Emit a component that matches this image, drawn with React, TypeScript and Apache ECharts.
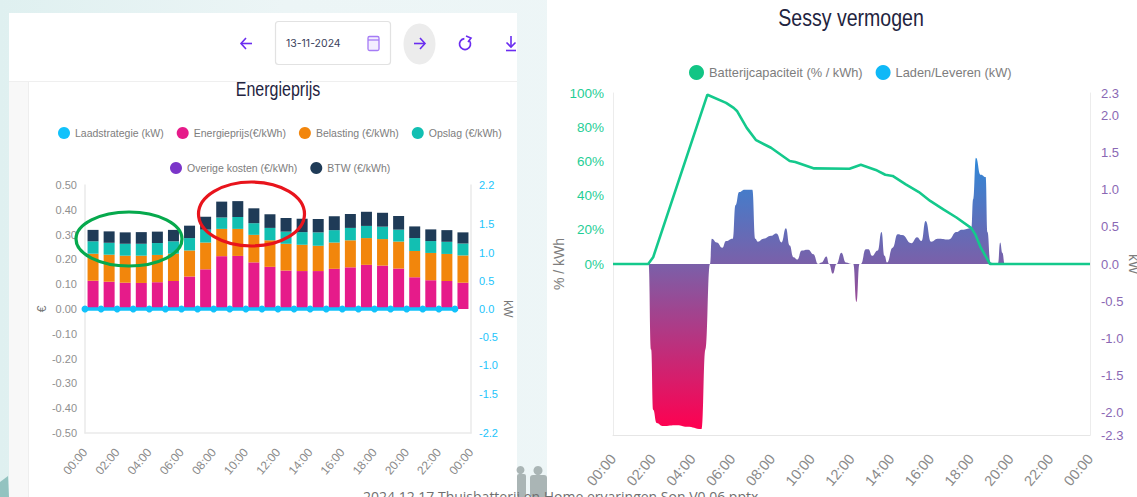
import React, { useEffect, useRef } from "react";
import * as echarts from "echarts";

// ---------- left chart data (one value per hour) ----------
const priceHours = ["00:30","01:30","02:30","03:30","04:30","05:30","06:30","07:30","08:30","09:30","10:30","11:30","12:30","13:30","14:30","15:30","16:30","17:30","18:30","19:30","20:30","21:30","22:30","23:30"];
const strategyHours = [0,1,2,3,4,5,6,7,8,9,10,11,12,13,14,15,16,17,18,19,20,21,22,23];
const laadstrategie = [0,0,0,0,0,0,0,0,0,0,0,0,0,0,0,0,0,0,0,0,0,0,0,0];
const energieprijs = [0.114,0.110,0.106,0.105,0.108,0.113,0.131,0.160,0.213,0.214,0.188,0.170,0.155,0.153,0.153,0.162,0.168,0.178,0.175,0.163,0.128,0.116,0.113,0.106];
const belasting = [0.109,0.109,0.109,0.110,0.110,0.110,0.105,0.108,0.110,0.109,0.111,0.107,0.108,0.106,0.102,0.106,0.109,0.108,0.107,0.109,0.106,0.110,0.109,0.110];
const opslag = [0.050,0.048,0.048,0.048,0.048,0.050,0.050,0.052,0.046,0.048,0.047,0.050,0.049,0.051,0.054,0.050,0.050,0.049,0.050,0.048,0.052,0.048,0.049,0.048];
const overigeKosten = [0,0,0,0,0,0,0,0,0,0,0,0,0,0,0,0,0,0,0,0,0,0,0,0];
const btw = [0.046,0.046,0.046,0.047,0.046,0.046,0.050,0.052,0.064,0.064,0.060,0.055,0.055,0.054,0.054,0.056,0.056,0.057,0.056,0.055,0.047,0.047,0.047,0.045];
const kwTicksLeft = [-2.2,-1.5,-1,-0.5,0,0.5,1,1.5,2.2];

// ---------- right chart data ----------
const powerHours = [0,1.79,1.92,2.02,2.20,2.49,3.24,3.71,4.46,4.65,4.88,4.97,5.22,5.50,5.69,6.03,6.16,6.35,6.63,7.01,7.16,7.29,7.57,7.95,8.23,8.48,8.70,8.89,9.08,9.27,9.50,9.83,10.08,10.32,10.49,10.74,10.87,11.06,11.25,11.49,11.72,12.0,12.09,12.25,12.40,12.47,12.72,12.85,13.04,13.32,13.51,13.66,13.79,14.07,14.32,14.54,15.01,15.30,15.52,15.73,16.01,16.33,16.90,17.28,17.56,18.03,18.12,18.26,18.50,18.75,18.84,18.99,19.25,19.37,19.48,19.59,19.71,24];
const powerKw = [0,0,-1.15,-1.96,-2.14,-2.18,-2.17,-2.19,-2.22,-1.15,0,0.34,0.29,0.22,0.31,0.34,0.79,0.97,1.0,1.0,0.34,0.30,0.34,0.38,0.41,0.29,0.48,0.25,0.09,0.06,0.18,0.19,0.13,0,0.02,0.10,0,-0.13,0,0.15,0.02,0,0,-0.51,0,0,0.2,0.2,0.11,0.18,0.43,0.11,0.02,0.22,0.40,0.39,0.28,0.36,0.31,0.58,0.30,0.34,0.33,0.43,0.46,0.48,0.87,1.43,1.2,1.17,0.43,0.02,0,0.01,0.29,0.15,0,0];
const batteryHours = [0,1.77,2.02,4.75,5.69,6.07,6.25,6.73,7.2,7.95,8.89,9.17,10.12,11.9,12.47,13.22,13.7,14.07,14.73,15.39,15.96,16.62,17.28,18.03,18.22,18.5,18.97,19.07,24];
const batteryPct = [0,0,3.9,99,94.2,91.3,89.3,79.6,72.4,68,60.2,59.6,55.9,55.7,58,55,52.2,51.5,46.6,42.1,36.9,32,27.2,21,17.5,9.7,0,0,0];
const pctTicks = [0,20,40,60,80,100];
const kwTicksRight = [-2.3,-2,-1.5,-1,-0.5,0,0.5,1,1.5,2,2.3];

const leftTitle = "Energieprijs";
const rightTitle = "Sessy vermogen";
const dateText = "13-11-2024";
const headline = "Zoo stand";
const footer = "2024 12 17 Thuisbatterij en Home ervaringen Son V0 06.pptx";

const SANS = '"Liberation Sans", sans-serif';
const INK = "#1f2440";
const VIOLET = "#6a2cf0";

const pairs = (xs: number[], ys: number[]) => xs.map((x, i) => [x, ys[i]]);
const hourLabel = (v: number) => `${String(v % 24).padStart(2, "0")}:00`;

export default function App() {
  const ref = useRef<HTMLDivElement>(null);
  useEffect(() => {
    const chart = echarts.init(ref.current!, undefined, { renderer: "svg" });
    const stroke = { stroke: VIOLET, lineWidth: 1.6, fill: "none" };
    const bar = (name: string, values: number[], color: string) => ({
      name, type: "bar", stack: "price", xAxisIndex: 2, yAxisIndex: 0, barWidth: 11,
      data: values, itemStyle: { color },
    });
    chart.setOption({
      animation: false,
      backgroundColor: "transparent",
      legend: [
        { left: 53, top: 122, icon: "circle", itemWidth: 12, itemHeight: 12, itemGap: 13, textStyle: { fontFamily: SANS, fontSize: 10.5, color: "#7d7d7d" },
          data: ["Laadstrategie (kW)", "Energieprijs(€/kWh)", "Belasting (€/kWh)", "Opslag (€/kWh)"] },
        { left: 165, top: 157, icon: "circle", itemWidth: 12, itemHeight: 12, itemGap: 13, textStyle: { fontFamily: SANS, fontSize: 10.5, color: "#7d7d7d" },
          data: ["Overige kosten (€/kWh)", "BTW (€/kWh)"] },
        { left: 684, top: 60, icon: "circle", itemWidth: 15, itemHeight: 15, itemGap: 13, textStyle: { fontFamily: SANS, fontSize: 12.8, color: "#7d7d7d" },
          data: ["Batterijcapaciteit (% / kWh)", "Laden/Leveren (kW)"] },
      ],
      grid: [
        { left: 85, top: 185, width: 386, height: 248, outerBoundsMode: "none" },
        { left: 613, top: 93, width: 477, height: 342, outerBoundsMode: "none" },
      ],
      xAxis: [
        { gridIndex: 0, type: "value", min: 0, max: 24, interval: 2, splitLine: { show: false }, axisTick: { show: false },
          axisLine: { onZero: false, lineStyle: { color: "#eaeaea", width: 1.5 } },
          axisLabel: { rotate: 50, margin: 17, fontFamily: SANS, fontSize: 12, color: "#8a8a8a", formatter: hourLabel, showMinLabel: true, showMaxLabel: true } },
        { gridIndex: 1, type: "value", min: 0, max: 24, interval: 2, splitLine: { show: false }, axisTick: { show: false },
          axisLine: { onZero: false, lineStyle: { color: "#e6e6e6" } },
          axisLabel: { rotate: 50, margin: 21, fontFamily: SANS, fontSize: 14.5, color: "#8a8a8a", formatter: hourLabel, showMinLabel: true, showMaxLabel: true } },
        { gridIndex: 0, type: "category", show: false, data: priceHours },
      ],
      yAxis: [
        { gridIndex: 0, type: "value", min: -0.5, max: 0.5, interval: 0.1, splitLine: { show: false }, axisTick: { show: false },
          axisLine: { show: true, onZero: false, lineStyle: { color: "#eaeaea", width: 1.5 } },
          axisLabel: { margin: 8, fontFamily: SANS, fontSize: 11, color: "#8f8f8f", formatter: (v: number) => v.toFixed(2) },
          name: "€", nameLocation: "middle", nameGap: 30, nameTextStyle: { fontFamily: SANS, fontSize: 12, color: "#777" } },
        { gridIndex: 0, type: "value", position: "right", min: -2.2, max: 2.2, splitLine: { show: false }, axisTick: { show: false },
          axisLine: { show: true, onZero: false, lineStyle: { color: "#eaeaea", width: 1.5 } },
          axisLabel: { margin: 8, fontFamily: SANS, fontSize: 11, color: "#22c4fb", customValues: kwTicksLeft, formatter: (v: number) => v.toFixed(1) },
          name: "kW", nameLocation: "middle", nameGap: 31, nameRotate: -90, nameTextStyle: { fontFamily: SANS, fontSize: 12, color: "#777" } },
        { gridIndex: 1, type: "value", min: -100, max: 100, splitLine: { show: false }, axisTick: { show: false },
          axisLine: { show: true, onZero: false, lineStyle: { color: "#ececec" } },
          axisLabel: { margin: 9, fontFamily: SANS, fontSize: 13.5, color: "#1fce96", customValues: pctTicks, formatter: (v: number) => `${v}%` },
          name: "% / kWh", nameLocation: "middle", nameGap: 35, nameTextStyle: { fontFamily: SANS, fontSize: 14, color: "#7d7d7d" } },
        { gridIndex: 1, type: "value", position: "right", min: -2.3, max: 2.3, splitLine: { show: false }, axisTick: { show: false },
          axisLine: { show: true, onZero: false, lineStyle: { color: "#ececec" } },
          axisLabel: { margin: 11, fontFamily: SANS, fontSize: 13, color: "#8a68b4", customValues: kwTicksRight, formatter: (v: number) => v.toFixed(1) },
          name: "kW", nameLocation: "middle", nameGap: 36, nameRotate: -90, nameTextStyle: { fontFamily: SANS, fontSize: 14, color: "#7d7d7d" } },
      ],
      series: [
        bar("Energieprijs(€/kWh)", energieprijs, "#e61b8a"),
        bar("Belasting (€/kWh)", belasting, "#f2860c"),
        bar("Opslag (€/kWh)", opslag, "#12bfb2"),
        bar("Overige kosten (€/kWh)", overigeKosten, "#7b35c9"),
        bar("BTW (€/kWh)", btw, "#1f3b57"),
        { name: "Laadstrategie (kW)", type: "line", xAxisIndex: 0, yAxisIndex: 1, z: 6, data: pairs(strategyHours, laadstrategie),
          symbol: "circle", symbolSize: 7, lineStyle: { color: "#12c2fb", width: 3.5 }, itemStyle: { color: "#12c2fb" } },
        { name: "Laden/Leveren (kW)", type: "line", xAxisIndex: 1, yAxisIndex: 3, z: 3, smooth: 0.5, smoothMonotone: "x", showSymbol: false, symbol: "none",
          data: pairs(powerHours, powerKw), lineStyle: { width: 0 }, itemStyle: { color: "#0fb8f7" },
          areaStyle: { opacity: 1, color: new echarts.graphic.LinearGradient(0, 0, 0, 1, [
            { offset: 0, color: "#2f88d8" }, { offset: 0.39, color: "#7a60a9" }, { offset: 1, color: "#ff0050" },
          ]) } },
        { name: "Batterijcapaciteit (% / kWh)", type: "line", xAxisIndex: 1, yAxisIndex: 2, z: 5, showSymbol: false, symbol: "none",
          data: pairs(batteryHours, batteryPct), lineStyle: { color: "#14c98c", width: 2.6 }, itemStyle: { color: "#12c585" } },
      ],
      graphic: [
        // chart titles, condensed like the screenshot
        { type: "text", x: 278, y: 89, scaleX: 0.8, z: 11, style: { text: leftTitle, align: "center", verticalAlign: "middle", fontFamily: SANS, fontSize: 20, fill: INK } },
        { type: "text", x: 851, y: 18, scaleX: 0.85, z: 11, style: { text: rightTitle, align: "center", verticalAlign: "middle", fontFamily: SANS, fontSize: 23, fill: INK } },
        // cut-off headline above the screenshot
        { type: "text", x: 18, y: -36, z: 1, style: { text: headline, fontFamily: SANS, fontSize: 40, fill: "#111" } },
        // date picker
        { type: "rect", shape: { x: 275.5, y: 21.5, width: 115, height: 43, r: 3 }, z: 10, style: { fill: "#fff", stroke: "#e2e2e2", lineWidth: 1.2 } },
        { type: "text", x: 286, y: 38, z: 11, style: { text: dateText, fontFamily: '"Inter", sans-serif', fontSize: 10.5, fill: "#3b3f5c" } },
        { type: "rect", shape: { x: 368, y: 36.5, width: 11, height: 14, r: 1.5 }, z: 11, style: { fill: "#f3eeff", stroke: "#a57bf5", lineWidth: 1.3 } },
        { type: "line", shape: { x1: 368, y1: 40, x2: 379, y2: 40 }, z: 11, style: { stroke: "#a57bf5", lineWidth: 1.3 } },
        // back
        { type: "polyline", z: 11, shape: { points: [[252, 43.5], [241, 43.5]] }, style: stroke },
        { type: "polyline", z: 11, shape: { points: [[246, 38], [241, 43.5], [246, 49]] }, style: stroke },
        // forward
        { type: "ellipse", z: 10, shape: { cx: 419.5, cy: 44, rx: 16, ry: 20.5 }, style: { fill: "#ececec" } },
        { type: "polyline", z: 11, shape: { points: [[414, 43.5], [425, 43.5]] }, style: stroke },
        { type: "polyline", z: 11, shape: { points: [[420, 38], [425, 43.5], [420, 49]] }, style: stroke },
        // refresh
        { type: "arc", z: 11, shape: { cx: 465, cy: 44, r: 5.5, startAngle: -0.6, endAngle: 4.6 }, style: { stroke: VIOLET, lineWidth: 1.7, fill: "none" } },
        { type: "polyline", z: 11, shape: { points: [[466, 36], [471, 38], [468, 42]] }, style: stroke },
        // download
        { type: "polyline", z: 11, shape: { points: [[511, 36], [511, 46]] }, style: stroke },
        { type: "polyline", z: 11, shape: { points: [[506.5, 42.5], [511, 47], [515.5, 42.5]] }, style: stroke },
        { type: "polyline", z: 11, shape: { points: [[506, 50.5], [516, 50.5]] }, style: stroke },
        // annotation ellipses
        { type: "ellipse", z: 20, shape: { cx: 129, cy: 239, rx: 53, ry: 27 }, style: { fill: "none", stroke: "#06a94d", lineWidth: 3.2 } },
        { type: "ellipse", z: 20, shape: { cx: 251.5, cy: 214, rx: 53, ry: 32 }, style: { fill: "none", stroke: "#e8141c", lineWidth: 3.2 } },
        // slide decoration and footer
        { type: "circle", z: 1, shape: { cx: 520.5, cy: 470, r: 4 }, style: { fill: "#aab5b5" } },
        { type: "rect", z: 1, shape: { x: 517, y: 474, width: 9, height: 23, r: 2 }, style: { fill: "#aab5b5" } },
        { type: "circle", z: 1, shape: { cx: 538, cy: 470.5, r: 4.5 }, style: { fill: "#aab5b5" } },
        { type: "rect", z: 1, shape: { x: 530, y: 475, width: 17, height: 22, r: 3 }, style: { fill: "#aab5b5" } },
        { type: "polygon", z: 1, shape: { points: [[0, 482], [8, 476], [9, 497], [0, 497]] }, style: { fill: "#93c3c0" } },
        { type: "text", x: 363, y: 489, z: 30, style: { text: footer, fontFamily: '"Open Sans", sans-serif', fontSize: 14, fill: "#6f6f6f" } },
      ],
    });
    return () => chart.dispose();
  }, []);

  return (
    <div style={{ position: "fixed", left: 0, top: 0, width: 1137, height: 497, overflow: "hidden", background: "linear-gradient(90deg,#dff0f0 0%,#ecf5f6 25%,#f0f7f8 100%)" }}>
      <div style={{ position: "absolute", left: 9, top: 13, width: 508, height: 484, background: "#fff" }} />
      <div style={{ position: "absolute", left: 9, top: 81, width: 19, height: 416, background: "#f8f8f8", borderRight: "1px solid #eeeeee" }} />
      <div style={{ position: "absolute", left: 9, top: 81, width: 508, height: 1, background: "#efefef" }} />
      <div style={{ position: "absolute", left: 547, top: 0, width: 590, height: 497, background: "#fff" }} />
      <div ref={ref} style={{ position: "absolute", left: 0, top: 0, width: 1137, height: 497 }} />
    </div>
  );
}
